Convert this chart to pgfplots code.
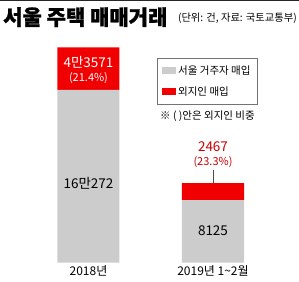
\documentclass[border=0pt]{standalone}
\usepackage{fontspec}
\setmainfont{Noto Sans CJK KR}
\newfontfamily\heavy[BoldFeatures={FakeBold=1.2}]{Noto Sans CJK KR}
\usepackage{pgfplots}
\pgfplotsset{compat=1.18}
\definecolor{bargray}{RGB}{204,204,204}
\definecolor{barred}{RGB}{240,0,0}
\begin{document}
\begin{tikzpicture}[x=1pt,y=1pt]
\path[use as bounding box] (0,0) rectangle (299,281);
\fill[black!85] (0,279.5) rectangle (299,281);
\node[anchor=base west, inner sep=0pt] at (3,256) {\fontsize{21}{22}\heavy\bfseries 서울 주택 매매거래};
\node[anchor=base east, inner sep=0pt] at (297,259) {\fontsize{10.3}{11}\selectfont (단위: 건, 자료: 국토교통부)};
\begin{axis}[
  at={(0pt,18.5pt)}, anchor=south west,
  scale only axis, width=299pt, height=262.5pt,
  xmin=-0.7108, xmax=1.6908, ymin=0, ymax=262.5,
  hide axis, clip=false,
  ybar stacked, bar width=62pt,
  legend style={at={(axis description cs:0.525,0.779)}, anchor=north west,
    draw=black!55, font=\fontsize{10.5}{12}\selectfont,
    inner xsep=5pt, inner ysep=5.5pt, row sep=7pt, cells={anchor=west}},
  legend image code/.code={\fill[#1] (0pt,-3.5pt) rectangle (14pt,3.5pt);},
]
\addplot[fill=bargray, draw=none] coordinates {(0,172.5) (1,62.5)};
\addplot[fill=barred, draw=none] coordinates {(0,42.5) (1,17)};
\legend{서울 거주자 매입\hspace{6pt}, 외지인 매입}
\coordinate (a1) at (axis cs:0,200.5);
\coordinate (a2) at (axis cs:0,184.5);
\coordinate (a3) at (axis cs:0,79.5);
\coordinate (b1) at (axis cs:1,31.5);
\coordinate (b2) at (axis cs:1,115.5);
\coordinate (b3) at (axis cs:1,100.5);
\coordinate (l1) at (axis cs:1,79.5);
\coordinate (l2) at (axis cs:1,92.5);
\coordinate (nt) at (axis cs:0.574,146.5);
\coordinate (c1) at (axis cs:0,-8);
\coordinate (c2) at (axis cs:1,-8);
\end{axis}
\node[text=white, font=\fontsize{13.5}{14}\selectfont] at (a1) {4만3571};
\node[text=white, font=\fontsize{11}{12}\selectfont] at (a2) {(21.4\%)};
\node[font=\fontsize{13.5}{14}\selectfont] at (a3) {16만272};
\node[font=\fontsize{13.5}{14}\selectfont] at (b1) {8125};
\node[text=barred!85!black, font=\fontsize{13.5}{14}\selectfont] at (b2) {2467};
\node[text=barred!85!black, font=\fontsize{11}{12}\selectfont] at (b3) {(23.3\%)};
\draw[black!70, line width=0.6pt] (l1) -- (l2);
\node[anchor=west, inner sep=0pt, font=\fontsize{10.5}{12}\selectfont] at (nt) {※ ( )안은 외지인 비중};
\node[font=\fontsize{12}{13}\selectfont] at (c1) {2018년};
\node[font=\fontsize{12}{13}\selectfont] at (c2) {2019년 1\textasciitilde 2월};
\end{tikzpicture}
\end{document}
